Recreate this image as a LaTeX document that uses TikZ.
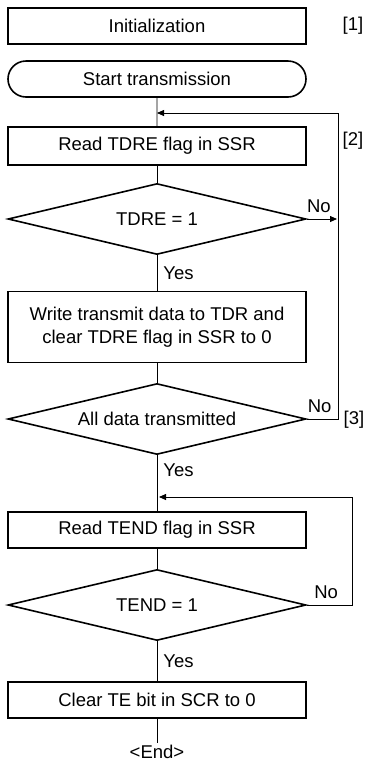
\documentclass[tikz,border=0pt]{standalone}
\usepackage{fontspec}
\setmainfont{Liberation Sans}
\usetikzlibrary{arrows.meta,shapes.geometric,shapes.misc}

\begin{document}
\begin{tikzpicture}[x=1pt,y=-1pt,
  font=\fontsize{18.5}{22.5}\selectfont,
  stepbox/.style={draw,line width=1.6pt,minimum width=298pt,minimum height=36pt,inner sep=0pt,align=center},
  termbox/.style={draw,line width=1.6pt,rounded rectangle,minimum width=298pt,minimum height=36pt,inner sep=0pt},
  decide/.style={draw,line width=1.6pt,diamond,aspect=4.2,minimum width=298pt,minimum height=71pt,inner sep=0pt},
  line/.style={line width=0.8pt},
  ar/.style={line,-{Triangle[length=7pt,width=6pt]}},
  lbl/.style={inner sep=0pt}]
\useasboundingbox (0,0) rectangle (375,764);
\node[stepbox] (init) at (157,26) {Initialization};
\node[lbl] at (353,26) {[1]};
\node[termbox] (start) at (157,79) {Start transmission};
\node[stepbox,minimum height=38pt] (rdtdre) at (157,146) {Read TDRE flag in SSR};
\node[lbl] at (353,141) {[2]};
\node[decide] (tdre) at (157,219) {TDRE = 1};
\node[stepbox,minimum height=71pt] (wrdata) at (157,327) {Write transmit data to TDR and\\clear TDRE flag in SSR to 0};
\node[decide] (alldone) at (157,419) {All data transmitted};
\node[lbl] at (354,420) {[3]};
\node[stepbox] (rdtend) at (157,530) {Read TEND flag in SSR};
\node[decide] (tend) at (157,605) {TEND = 1};
\node[stepbox] (clrte) at (157,700) {Clear TE bit in SCR to 0};
\node[lbl] (fin) at (157,752) {<End>};
\coordinate (loop1) at (157,113);
\coordinate (loop2) at (159,497);
\coordinate (tdreno) at (337,219);
% main flow
\draw[line] (start) -- (rdtdre);
\draw[line] (rdtdre) -- (tdre);
\draw[line] (tdre) -- node[lbl,right=6pt]{Yes} (wrdata);
\draw[line] (wrdata) -- (alldone);
\draw[line] (alldone) -- node[lbl,right=6pt,pos=0.27]{Yes} (rdtend);
\draw[line] (rdtend) -- (tend);
\draw[line] (tend) -- node[lbl,right=6pt]{Yes} (clrte);
\draw[line] (clrte.south) -- ++(0,24);
% loops
\draw[ar] (tdre.east) -- node[lbl,above=6pt,pos=0.4]{No} (tdreno);
\draw[ar] (alldone.east) -- node[lbl,above=6pt,pos=0.4]{No} ++(32,0) |- (loop1);
\draw[ar] (tend.east) -- node[lbl,above=6pt,pos=0.42]{No} ++(46,0) |- (loop2);
\end{tikzpicture}
\end{document}
